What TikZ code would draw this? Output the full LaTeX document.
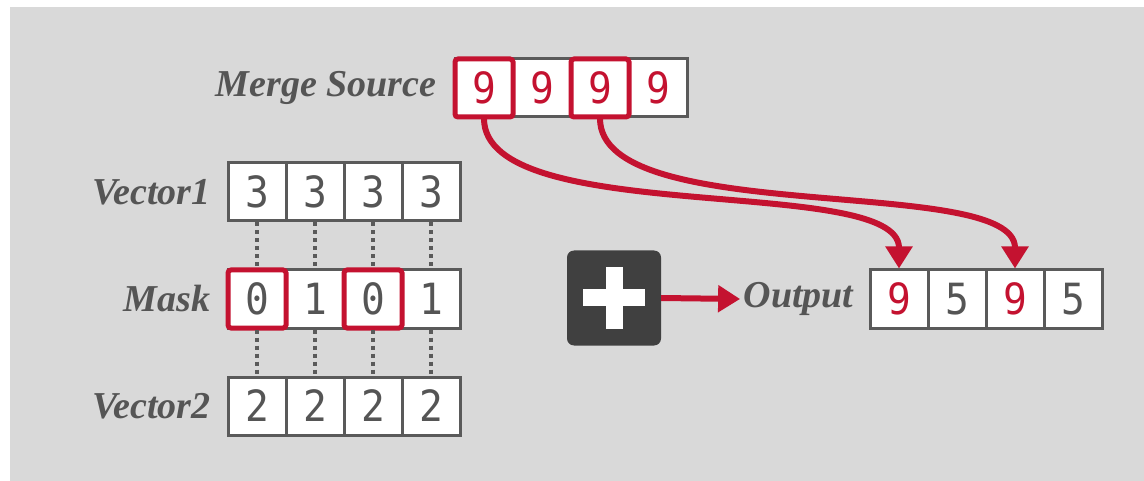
\documentclass[tikz,border=0pt]{standalone}
\usepackage{fontspec}
\setmainfont{Liberation Serif}
\newfontfamily\cellfont{DejaVu Sans Mono}[FakeStretch=0.92]
\usetikzlibrary{arrows.meta}
\definecolor{slidegray}{HTML}{D9D9D9}
\definecolor{boxgray}{HTML}{5A5A5A}
\definecolor{textgray}{HTML}{555555}
\definecolor{hlred}{HTML}{C41230}
\definecolor{plusgray}{HTML}{404040}
\tikzstyle{cell} = [rectangle, minimum width=58pt, minimum height=58pt, inner sep=0pt, draw=boxgray, line width=3pt, fill=white, text=textgray, font=\cellfont\fontsize{43}{43}\selectfont]
\tikzstyle{pick} = [rectangle, minimum width=58pt, minimum height=58pt, rounded corners=3pt, draw=hlred, line width=5pt]
\tikzstyle{rowname} = [anchor=east, text=textgray, font=\bfseries\itshape\fontsize{38}{38}\selectfont]
\tikzstyle{opbox} = [rectangle, minimum width=94pt, minimum height=95pt, rounded corners=7pt, fill=plusgray]
\tikzstyle{link} = [draw=boxgray, line width=4pt, dash pattern=on 4pt off 4pt]
\tikzstyle{arrow} = [line width=6pt, draw=hlred, -{Triangle[length=22pt,width=26pt]}]

\begin{document}
\begin{tikzpicture}[x=1pt,y=-1pt]
    \useasboundingbox (0,0) rectangle (1144,481);
    \fill[slidegray] (10,7) rectangle (1144,481);

    % rows of cells
    \foreach \v [count=\i] in {9,9,9,9}
        \node (src\i) [cell, text=hlred] at ({484+58*(\i-1)},88) {\v};
    \foreach \v [count=\i] in {3,3,3,3}
        \node (vecA\i) [cell] at ({257+58*(\i-1)},192) {\v};
    \foreach \v [count=\i] in {0,1,0,1}
        \node (mask\i) [cell] at ({257+58*(\i-1)},299) {\v};
    \foreach \v [count=\i] in {2,2,2,2}
        \node (vecB\i) [cell] at ({257+58*(\i-1)},406) {\v};
    \foreach \v/\c [count=\i] in {9/hlred,5/textgray,9/hlred,5/textgray}
        \node (out\i) [cell, text=\c] at ({899+58*(\i-1)},299) {\v};

    % highlighted cells
    \node (srcpick1) [pick] at (src1) {};
    \node (srcpick3) [pick] at (src3) {};
    \node (maskpick1) [pick] at (mask1) {};
    \node (maskpick3) [pick] at (mask3) {};

    % row names
    \node (srcname) [rowname] at (440,88) {Merge Source};
    \node (vecAname) [rowname] at (214,192) {Vector1};
    \node (maskname) [rowname] at (214,299) {Mask};
    \node (vecBname) [rowname] at (214,406) {Vector2};
    \node (outname) [rowname] at (857,299) {Output};

    % dotted lanes
    \foreach \i in {1,...,4} {
        \draw [link] (vecA\i.south) -- (mask\i.north);
        \draw [link] (mask\i.south) -- (vecB\i.north);
    }

    % operator
    \node (plus) [opbox] at (614,298) {};
    \draw [white, line width=17pt] ([xshift=-31pt]plus.center) -- ([xshift=31pt]plus.center);
    \draw [white, line width=17pt] ([yshift=-31pt]plus.center) -- ([yshift=31pt]plus.center);

    % arrows
    \draw [arrow] (plus.east) -- (outname.west);
    \draw [arrow] (src1.south) .. controls +(0,110) and +(0,-95) .. (out1.north);
    \draw [arrow] (src3.south) .. controls +(0,110) and +(0,-95) .. (out3.north);
\end{tikzpicture}
\end{document}
